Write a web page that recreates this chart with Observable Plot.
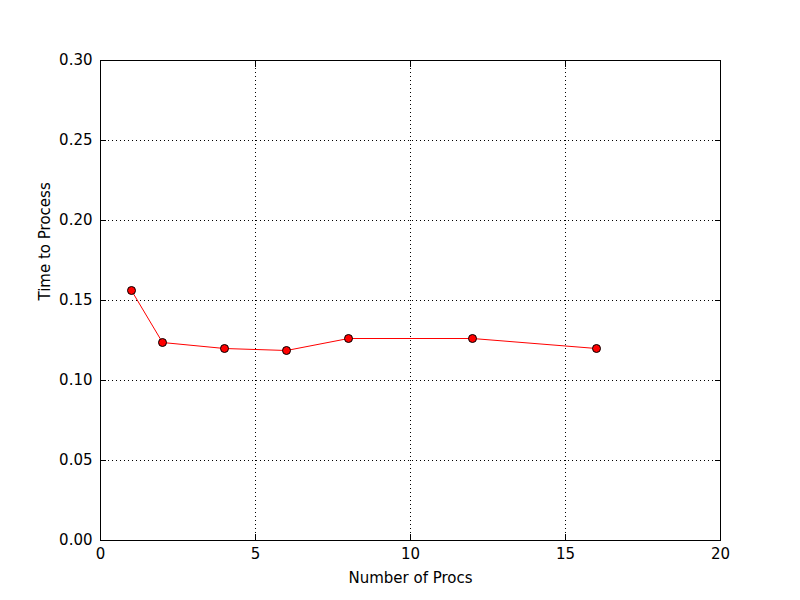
<!DOCTYPE html>
<html>
<head>
<script src="https://cdn.jsdelivr.net/npm/d3@7"></script>
<script src="https://cdn.jsdelivr.net/npm/@observablehq/plot@0.6"></script>
<style>body{margin:0;background:#fff}</style>
</head>
<body>
<div id="chart"></div>
<script>
const procs = [1, 2, 4, 6, 8, 12, 16];
const times = [0.15625, 0.12375, 0.12, 0.11875, 0.12625, 0.12625, 0.12];
const xTicks = [0, 5, 10, 15, 20];
const yTicks = [0, 0.05, 0.1, 0.15, 0.2, 0.25, 0.3];

const data = procs.map((p, i) => ({procs: p, time: times[i]}));

const chart = Plot.plot({
  width: 800,
  height: 600,
  marginLeft: 100,
  marginRight: 80,
  marginTop: 60,
  marginBottom: 60,
  style: {fontFamily: "DejaVu Sans", fontSize: "15px", background: "white", color: "black"},
  x: {domain: [0, 20]},
  y: {domain: [0, 0.3]},
  marks: [
    Plot.gridX(xTicks, {stroke: "black", strokeOpacity: 1, strokeDasharray: "1,3"}),
    Plot.gridY(yTicks, {stroke: "black", strokeOpacity: 1, strokeDasharray: "1,3"}),
    Plot.axisX(xTicks, {tickSize: -6, tickPadding: 14, label: null}),
    Plot.axisX(xTicks, {anchor: "top", tickSize: -6, tickFormat: () => "", label: null}),
    Plot.axisY(yTicks, {tickSize: -6, tickPadding: 14, tickFormat: d3.format(".2f"), label: null}),
    Plot.axisY(yTicks, {anchor: "right", tickSize: -6, tickFormat: () => "", label: null}),
    Plot.text(["Number of Procs"], {frameAnchor: "bottom", dy: 42, fontSize: 15}),
    Plot.text(["Time to Process"], {frameAnchor: "left", dx: -55, rotate: -90, fontSize: 15}),
    Plot.frame({stroke: "black"}),
    Plot.line(data, {x: "procs", y: "time", stroke: "red", strokeWidth: 1}),
    Plot.dot(data, {x: "procs", y: "time", r: 4, fill: "red", stroke: "black", strokeWidth: 1})
  ]
});
document.getElementById("chart").append(chart);
</script>
</body>
</html>
